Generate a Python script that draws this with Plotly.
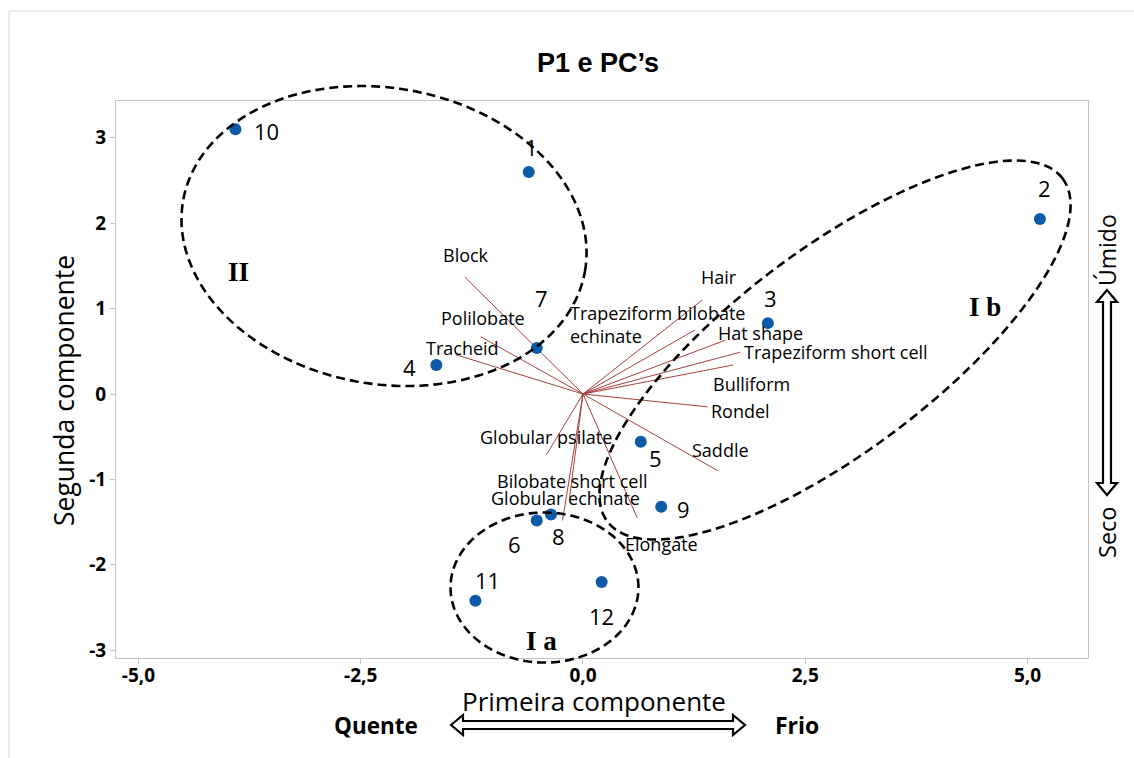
import numpy as np
import plotly.graph_objects as go

# ---- sample scores on the first two principal components ----
sample_ids = ["1", "2", "3", "4", "5", "6", "7", "8", "9", "10", "11", "12"]
pc1_scores = [-0.61, 5.14, 2.08, -1.65, 0.65, -0.52, -0.52, -0.36, 0.88, -3.91, -1.21, 0.21]
pc2_scores = [2.60, 2.05, 0.83, 0.34, -0.56, -1.48, 0.54, -1.41, -1.32, 3.10, -2.42, -2.20]

# ---- variable loadings (vectors from the origin) ----
variables = ["Block", "Polilobate", "Tracheid", "Hair",
             "Trapeziform bilobate<br>echinate", "Hat shape",
             "Trapeziform short cell", "Bulliform", "Rondel", "Saddle",
             "Globular psilate", "Bilobate short cell", "Globular echinate",
             "Elongate"]
load_pc1 = [-1.33, -1.15, -1.43, 1.34, 1.26, 1.60, 1.77, 1.69, 1.40, 1.52,
            -0.41, -0.15, -0.23, 0.61]
load_pc2 = [1.37, 0.67, 0.46, 1.10, 0.75, 0.63, 0.49, 0.34, -0.15, -0.90,
            -0.71, -1.21, -1.48, -1.45]

# ---- axis ticks ----
x_ticks = [-5.0, -2.5, 0.0, 2.5, 5.0]
x_tick_text = ["-5,0", "-2,5", "0,0", "2,5", "5,0"]
y_ticks = [3, 2, 1, 0, -1, -2, -3]
y_tick_text = ["3", "2", "1", "0", "-1", "-2", "-3"]

# ---- layout geometry ----
W, H = 1134, 758
ML, MR, MT, MB = 116, 46, 101, 100
X_RANGE = [-5.253, 5.681]
Y_RANGE = [-3.091, 3.431]
PW, PH = W - ML - MR, H - MT - MB

# label placement (screen px, +dy = downwards)
sample_dx = [3, 5, 3, -27, 15, -22, 5, 8, 22, 31, 12, 0]
sample_dy = [-25, -31, -25, 2, 16, 24, -50, 22, 2, 2, -21, 34]
var_dx = [1, 2, 7, 17, -127, 35, 2, 18, 33, 2, -1, 2, 3, 24]
var_dy = [-22, -19, -7, -23, -5, -7, 0, 19, 4, -21, -18, -16, -22, 26]
var_anchor = ["center", "center", "center", "center", "left", "center", "left",
              "center", "center", "center", "center", "center", "center", "center"]

FONT = "Open Sans, Noto Sans, sans-serif"
BLUE = "#0d5aa7"
VEC = "#a8403f"


def to_paper_x(x):
    return (x - X_RANGE[0]) / (X_RANGE[1] - X_RANGE[0])


def to_paper_y(y):
    return (y - Y_RANGE[0]) / (Y_RANGE[1] - Y_RANGE[0])


def px_paper(px, py):
    """screen pixel -> paper coordinates"""
    return (px - ML) / PW, (H - MB - py) / PH


# pixels per unit on each axis (keeps ellipse shapes true on screen)
kx = PW / (X_RANGE[1] - X_RANGE[0])
ky = PH / (Y_RANGE[1] - Y_RANGE[0])


def ellipse_path(cx, cy, a, b, rot_deg, n=160):
    t = np.linspace(0, 2 * np.pi, n)
    r = np.deg2rad(rot_deg)
    u = a * np.cos(t)
    v = b * np.sin(t)
    xs = cx + u * np.cos(r) - v * np.sin(r)
    ys = cy + (u * np.sin(r) + v * np.cos(r)) * kx / ky
    pts = [f"{to_paper_x(x):.5f},{to_paper_y(y):.5f}" for x, y in zip(xs, ys)]
    return "M " + " L ".join(pts) + " Z"


def poly_path(points):
    pp = [px_paper(x, y) for x, y in points]
    return "M " + " L ".join(f"{x:.5f},{y:.5f}" for x, y in pp) + " Z"


fig = go.Figure()

# loading vectors
lx, ly = [], []
for a, b in zip(load_pc1, load_pc2):
    lx += [0, a, None]
    ly += [0, b, None]
fig.add_trace(go.Scatter(x=lx, y=ly, mode="lines",
                         line=dict(color=VEC, width=1),
                         hoverinfo="skip", showlegend=False))

# sample scores
fig.add_trace(go.Scatter(x=pc1_scores, y=pc2_scores, mode="markers",
                         marker=dict(color=BLUE, size=12),
                         text=sample_ids, hoverinfo="text", showlegend=False))

annotations = []
for sid, x, y, dx, dy in zip(sample_ids, pc1_scores, pc2_scores, sample_dx, sample_dy):
    annotations.append(dict(x=x, y=y, xref="x", yref="y", text=sid, showarrow=False,
                            xshift=dx, yshift=-dy, xanchor="center", yanchor="middle",
                            font=dict(family=FONT, size=22, color="black")))
for name, x, y, dx, dy, anc in zip(variables, load_pc1, load_pc2, var_dx, var_dy, var_anchor):
    annotations.append(dict(x=x, y=y, xref="x", yref="y", text=name, showarrow=False,
                            xshift=dx, yshift=-dy, xanchor=anc, yanchor="middle",
                            align="left",
                            font=dict(family=FONT, size=18, color="black")))


def add_text(txt, px, py, size, family=FONT, angle=0, bold=False):
    xp, yp = px_paper(px, py)
    annotations.append(dict(x=xp, y=yp, xref="paper", yref="paper",
                            xanchor="center", yanchor="middle",
                            text=f"<b>{txt}</b>" if bold else txt, showarrow=False,
                            textangle=angle,
                            font=dict(family=family, size=size, color="black")))


# group labels
SERIF = "Liberation Serif, Times New Roman, serif"
add_text("II", 238, 272, 27, family=SERIF, bold=True)
add_text("I a", 541, 641, 27, family=SERIF, bold=True)
add_text("I b", 985, 307, 27, family=SERIF, bold=True)

# title, axis titles and gradient labels
add_text("P1 e PC’s", 598, 63, 27,
         family="Liberation Sans Narrow, Arial Narrow, Liberation Sans, sans-serif", bold=True)
add_text("Primeira componente", 594, 701, 26)
add_text("Segunda componente", 64, 391, 26.5, angle=-90)
add_text("Quente", 376, 725, 22.5, bold=True)
add_text("Frio", 797, 725, 23, bold=True)
add_text("Úmido", 1107, 250, 23, angle=-90)
add_text("Seco", 1107, 533, 23.5, angle=-90)

shapes = []
# outer frame
x0, y1 = px_paper(9, 11)
x1, y0 = px_paper(1150, 780)
shapes.append(dict(type="rect", xref="paper", yref="paper", x0=x0, x1=x1, y0=y0, y1=y1,
                   line=dict(color="#d6d6d6", width=1), layer="below"))

# group ellipses (centre, semi-axes in x-units, rotation)
for cx, cy, a, b, rot in [(-2.238, 1.850, 2.295, 1.665, -10),
                          (-0.433, -2.266, 1.057, 0.844, 0),
                          (2.835, 0.515, 3.206, 1.136, 37)]:
    shapes.append(dict(type="path", xref="paper", yref="paper",
                       path=ellipse_path(cx, cy, a, b, rot),
                       line=dict(color="black", width=2.6, dash="9px,5px")))

# hollow double arrows
hl, hr, hy = 451, 745, 725
shapes.append(dict(type="path", xref="paper", yref="paper",
                   path=poly_path([(hl, hy), (hl + 12, hy - 10), (hl + 12, hy - 4),
                                   (hr - 12, hy - 4), (hr - 12, hy - 10), (hr, hy),
                                   (hr - 12, hy + 10), (hr - 12, hy + 4),
                                   (hl + 12, hy + 4), (hl + 12, hy + 10)]),
                   fillcolor="white", line=dict(color="black", width=2.2)))
vx, vt, vb = 1107, 290, 495
shapes.append(dict(type="path", xref="paper", yref="paper",
                   path=poly_path([(vx, vt), (vx + 10, vt + 12), (vx + 4, vt + 12),
                                   (vx + 4, vb - 12), (vx + 10, vb - 12), (vx, vb),
                                   (vx - 10, vb - 12), (vx - 4, vb - 12),
                                   (vx - 4, vt + 12), (vx - 10, vt + 12)]),
                   fillcolor="white", line=dict(color="black", width=2.2)))

axis_common = dict(showgrid=False, zeroline=False, showline=True, mirror=True,
                   linecolor="#c4c4c4", linewidth=1, ticks="outside", ticklen=5,
                   tickcolor="#c4c4c4",
                   tickfont=dict(family=FONT, size=19, color="black", weight="bold"))

fig.update_layout(
    width=W, height=H,
    margin=dict(l=ML, r=MR, t=MT, b=MB, pad=0),
    paper_bgcolor="white", plot_bgcolor="white",
    xaxis=dict(range=X_RANGE, tickvals=x_ticks, ticktext=x_tick_text,
               ticklabelstandoff=-5, **axis_common),
    yaxis=dict(range=Y_RANGE, tickvals=y_ticks, ticktext=y_tick_text, **axis_common),
    annotations=annotations, shapes=shapes, showlegend=False,
)

fig.write_html("out.html")
